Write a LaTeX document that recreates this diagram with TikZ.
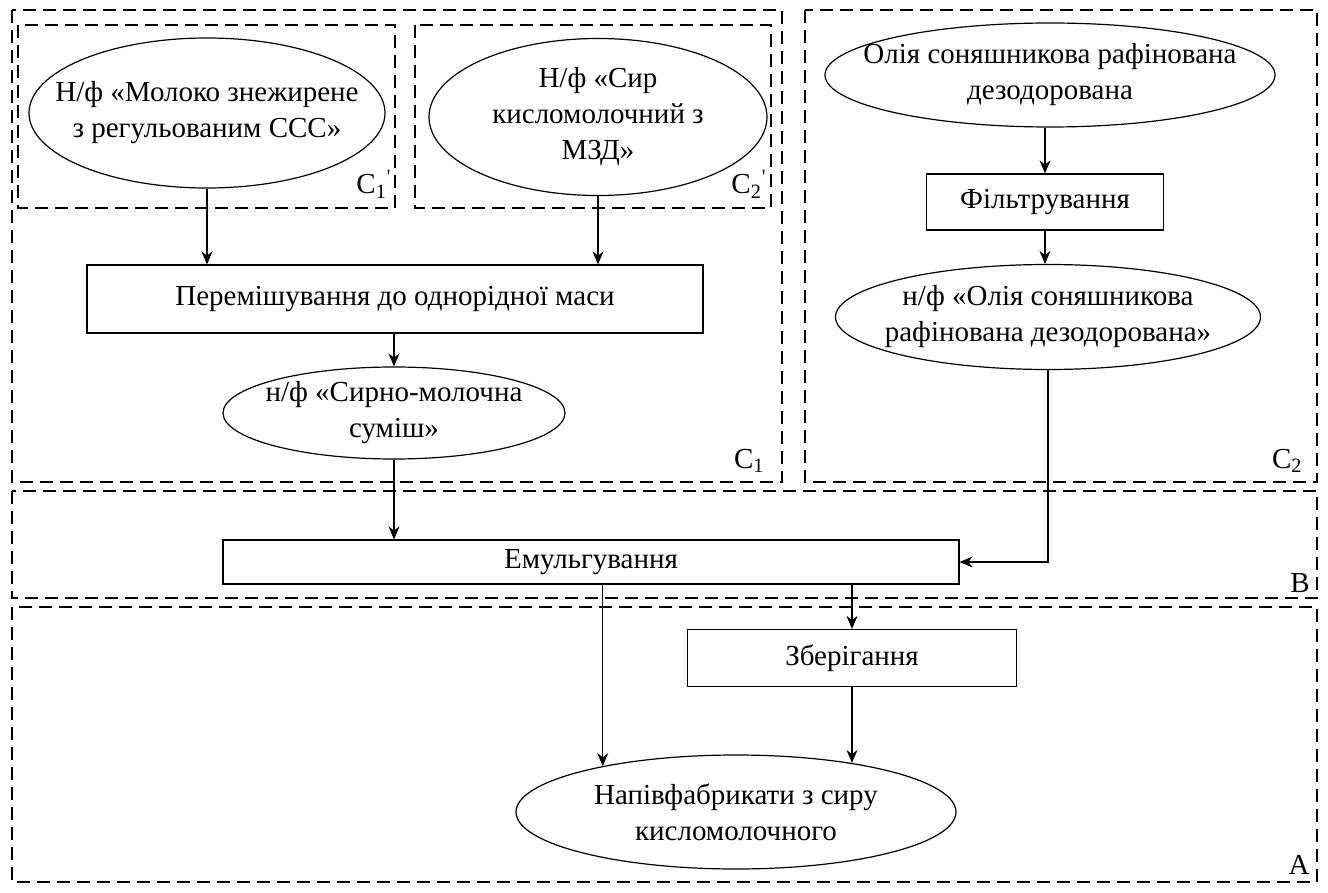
\documentclass[tikz,border=0pt]{standalone}
\usepackage{fontspec}
\setmainfont{Liberation Serif}
\usetikzlibrary{arrows.meta,shapes.geometric}

\begin{document}
\begin{tikzpicture}[x=0.5pt, y=-0.5pt,
    font=\fontsize{14.5pt}{18pt}\selectfont,
    zone/.style={dash pattern=on 6.5pt off 3.5pt, line width=0.65pt},
    oval/.style={ellipse, draw, inner sep=0pt, line width=0.6pt},
    box/.style={rectangle, draw, inner sep=0pt, line width=0.6pt},
    arr/.style={-{Stealth[length=6.5pt, width=5.5pt]}, line width=0.6pt},
    zlbl/.style={anchor=base east, inner sep=0pt},
    every label/.append style={align=center, inner sep=0pt}]
\useasboundingbox (0,0) rectangle (1328,893);

% zones
\draw [zone] (12,10) rectangle (782,482);
\draw [zone] (18,25) rectangle (395,208);
\draw [zone] (415,25) rectangle (771,208);
\draw [zone] (805,10) rectangle (1317,482);
\draw [zone] (12,491) rectangle (1317,598);
\draw [zone] (12,607) rectangle (1317,882);

\node [zlbl] (zc1p) at (392,194) {C\textsubscript{1}\textsuperscript{\textquotesingle}};
\node [zlbl] (zc2p) at (767,194) {C\textsubscript{2}\textsuperscript{\textquotesingle}};
\node [zlbl] (zc1) at (765,468) {C\textsubscript{1}};
\node [zlbl] (zc2) at (1303,468) {C\textsubscript{2}};
\node [zlbl] (zb) at (1310,592) {B};
\node [zlbl] (za) at (1310,874) {A};

% C1
\node [oval, minimum width=178pt, minimum height=75pt,
    label={center:Н/ф «Молоко знежирене\\з регульованим ССС»}] (molok) at (207,113) {};
\node [oval, minimum width=169pt, minimum height=78.5pt,
    label={center:Н/ф «Сир\\кисломолочний з\\МЗД»}] (syr) at (598,117) {};
\node [box, minimum width=308pt, minimum height=34pt] (peremish) at (395,299) {Перемішування до однорідної маси};
\node [oval, minimum width=171pt, minimum height=46pt,
    label={center:н/ф «Сирно-молочна\\суміш»}] (sumish) at (394,413) {};

% C2
\node [oval, minimum width=225pt, minimum height=52pt,
    label={center:Олія соняшникова рафінована\\дезодорована}] (olia) at (1050,75) {};
\node [box, minimum width=118.5pt, minimum height=28pt] (filtr) at (1045,202) {Фільтрування};
\node [oval, minimum width=212.5pt, minimum height=52.5pt,
    label={center:н/ф «Олія соняшникова\\рафінована дезодорована»}] (nfolia) at (1048,317) {};

% B, A
\node [box, minimum width=368pt, minimum height=22pt] (emulg) at (591,562) {Емульгування};
\node [box, minimum width=164.5pt, minimum height=28.5pt] (zber) at (852,658) {Зберігання};
\node [oval, minimum width=220pt, minimum height=57pt,
    label={center:Напівфабрикати з сиру\\кисломолочного}] (napiv) at (736,812) {};

\foreach \a/\b in {molok/peremish, syr/peremish, sumish/emulg, filtr/nfolia}
    \draw [arr] (\a.south) -- (\a.south |- \b.north);
\foreach \a/\b in {peremish/sumish, emulg/zber, olia/filtr}
    \draw [arr] (\b.north |- \a.south) -- (\b.north);

\draw [arr] (nfolia.south) |- (emulg.east);
\draw [arr] (emulg.south -| napiv.161) -- (napiv.161);
\draw [arr] (zber.south) -- (zber.south |- napiv.23);

\end{tikzpicture}
\end{document}
